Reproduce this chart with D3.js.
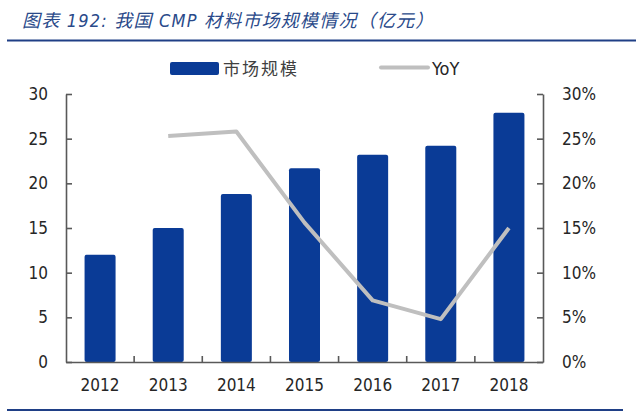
<!DOCTYPE html>
<html>
<head>
<meta charset="utf-8">
<script src="https://cdn.jsdelivr.net/npm/d3@7"></script>
<style>
  body { margin: 0; background: #fff; }
  svg { display: block; }
  .num { font-family: "DejaVu Sans Condensed", "DejaVu Sans", sans-serif; font-stretch: condensed; font-size: 17px; fill: #262626; }
</style>
</head>
<body>
<script>
var years = ["2012", "2013", "2014", "2015", "2016", "2017", "2018"];
var marketSize = [12.0, 15.0, 18.8, 21.7, 23.2, 24.2, 27.9];
var yoy = [null, 0.253, 0.258, 0.156, 0.069, 0.048, 0.150];
var leftTicks = [0, 5, 10, 15, 20, 25, 30];
var rightTicks = [0, 0.05, 0.10, 0.15, 0.20, 0.25, 0.30];

var W = 640, H = 412;
var svg = d3.select("body").append("svg").attr("width", W).attr("height", H);

// title + rules
svg.append("text")
  .attr("x", 22).attr("y", 27)
  .style("font-family", "'DejaVu Sans Condensed', 'DejaVu Sans', 'Noto Sans CJK SC', sans-serif")
  .style("font-stretch", "condensed")
  .style("font-style", "italic")
  .style("font-size", "18px")
  .style("letter-spacing", "1.2px")
  .style("fill", "#2a4a8a")
  .text("图表 192:  我国 CMP 材料市场规模情况（亿元）");
svg.append("line").attr("x1", 7).attr("x2", 636).attr("y1", 40.5).attr("y2", 40.5)
  .style("stroke", "#1f3f86").style("stroke-width", 2);
svg.append("line").attr("x1", 7).attr("x2", 623).attr("y1", 410).attr("y2", 410)
  .style("stroke", "#1f3f86").style("stroke-width", 2);

var plotL = 66, plotR = 543, plotT = 94, plotB = 362;

var x = d3.scaleBand().domain(years).range([plotL, plotR]).paddingInner(0.545).paddingOuter(0.2725);
var y = d3.scaleLinear().domain([0, 30]).range([plotB, plotT]);
var y2 = d3.scaleLinear().domain([0, 0.3]).range([plotB, plotT]);

// bars
svg.selectAll("rect.bar").data(marketSize).enter().append("rect")
  .attr("class", "bar")
  .attr("x", function (d, i) { return x(years[i]); })
  .attr("y", function (d) { return y(d); })
  .attr("width", x.bandwidth())
  .attr("height", function (d) { return y(0) - y(d); })
  .attr("rx", 2)
  .style("fill", "#0a3b96");

// yoy line
var line = d3.line()
  .defined(function (d) { return d != null; })
  .x(function (d, i) { return x(years[i]) + x.bandwidth() / 2; })
  .y(function (d) { return y2(d); });
svg.append("path").datum(yoy)
  .attr("d", line)
  .style("fill", "none")
  .style("stroke", "#bfbfbf")
  .style("stroke-width", 4)
  .style("stroke-linejoin", "round");

// left axis
var ax = svg.append("g").attr("transform", "translate(" + plotL + ",0)")
  .call(d3.axisLeft(y).tickValues(leftTicks).tickSizeInner(-6).tickSizeOuter(0).tickPadding(18));
ax.selectAll("text").attr("class", "num");

// right axis
var ax2 = svg.append("g").attr("transform", "translate(" + plotR + ",0)")
  .call(d3.axisRight(y2).tickValues(rightTicks).tickFormat(d3.format(".0%")).tickSizeInner(-6).tickSizeOuter(0).tickPadding(19));
ax2.selectAll("text").attr("class", "num").attr("text-anchor", "start");

// x axis
var ax3 = svg.append("g").attr("transform", "translate(0," + plotB + ")")
  .call(d3.axisBottom(x).tickSize(0).tickPadding(17));
ax3.selectAll("text").attr("class", "num");
var half = x.step() * x.paddingInner() / 2;
ax3.selectAll("line.sep").data(years.slice(1)).enter().append("line")
  .attr("class", "sep")
  .attr("x1", function (d) { return x(d) - half; })
  .attr("x2", function (d) { return x(d) - half; })
  .attr("y1", 0).attr("y2", -6);

svg.selectAll(".domain, .tick line, line.sep").style("stroke", "#595959").style("stroke-width", 1.6);

// legend
var lg = svg.append("g");
lg.append("rect").attr("x", 170).attr("y", 62).attr("width", 49).attr("height", 13).attr("rx", 2).style("fill", "#0a3b96");
lg.append("text").attr("x", 223).attr("y", 75)
  .style("font-family", "'Noto Sans CJK SC', sans-serif").style("font-size", "17px")
  .style("letter-spacing", "2px").style("fill", "#404040")
  .text("市场规模");
lg.append("line").attr("x1", 381).attr("x2", 428).attr("y1", 67.5).attr("y2", 67.5)
  .style("stroke", "#bfbfbf").style("stroke-width", 4).style("stroke-linecap", "round");
lg.append("text").attr("x", 432).attr("y", 75).attr("class", "num")
  .style("font-size", "18px")
  .text("YoY");
</script>
</body>
</html>
